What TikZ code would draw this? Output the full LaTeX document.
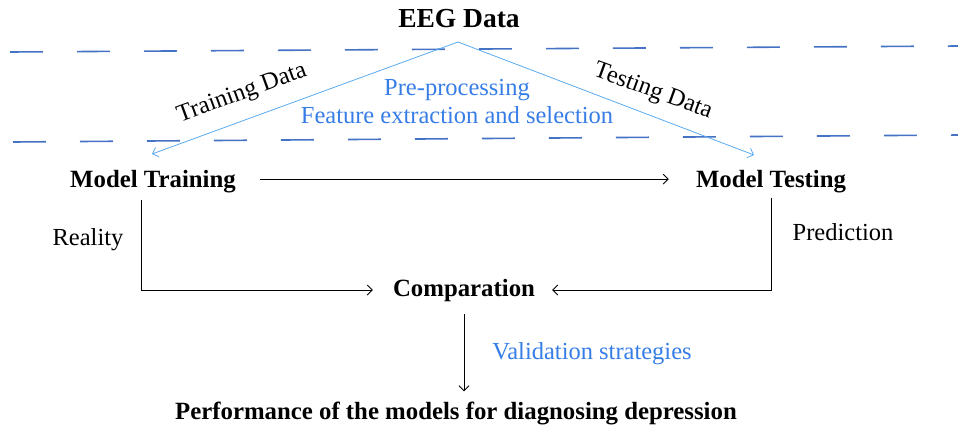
\documentclass[tikz,border=0pt]{standalone}
\usepackage{fontspec}
\setmainfont{Liberation Serif}
\usetikzlibrary{arrows.meta}
\definecolor{dashblue}{RGB}{68,114,196}
\definecolor{lineblue}{RGB}{90,170,240}
\definecolor{txtblue}{RGB}{55,125,230}
\begin{document}
\begin{tikzpicture}[x=1pt,y=-1pt,
  lbl/.style={inner sep=0pt,anchor=base,font=\fontsize{24.5}{29}\selectfont},
  blbl/.style={lbl,font=\fontsize{24.8}{29}\selectfont\bfseries},
  bluetxt/.style={lbl,text=txtblue},
  arr/.style={draw=black,line width=0.9pt,-{Straight Barb[length=5pt,width=10pt]}},
  barr/.style={draw=lineblue,line width=0.8pt,-{Straight Barb[length=5pt,width=10pt]}},
  dashline/.style={draw=dashblue,line width=1.6pt,dash pattern=on 33pt off 34pt}]
\useasboundingbox (0,0) rectangle (958,429);
% dashed separators
\draw[dashline] (10,52) -- (958,46);
\draw[dashline] (13,142) -- (958,135);
% nodes
\node[blbl,font=\fontsize{27.5}{31}\selectfont\bfseries] (eeg) at (459,27) {EEG Data};
\node[bluetxt] (pre) at (457,95) {Pre-processing};
\node[bluetxt] (feat) at (457,123) {Feature extraction and selection};
\node[lbl,rotate=20] (trd) at (244,99) {Training Data};
\node[lbl,rotate=-20] (ted) at (651,97) {Testing Data};
\node[blbl] (mt) at (153,187) {Model Training};
\node[blbl] (mte) at (771,187) {Model Testing};
\node[lbl] (real) at (88,245) {Reality};
\node[lbl] (pred) at (843,240) {Prediction};
\node[blbl] (cmp) at (464,296) {Comparation};
\node[bluetxt] (val) at (592,359) {Validation strategies};
\node[blbl] (perf) at (456,419) {Performance of the models for diagnosing depression};
% coordinates
\coordinate (apex) at (458,42);
\coordinate (ltip) at (152,154);
\coordinate (rtip) at (754,155);
\coordinate (lt) at (141,200);
\coordinate (rt) at (771,198);
% connectors
\draw[barr] (apex) -- (ltip);
\draw[barr] (apex) -- (rtip);
\draw[arr,shorten <=24pt,shorten >=27pt] ([yshift=2pt]mt.east) -- ([yshift=2pt]mte.west);
\draw[arr,shorten >=20pt] (lt) |- (cmp.west);
\draw[arr,shorten >=17pt] (rt) |- (cmp.east);
\draw[arr,shorten <=13pt,shorten >=10pt] (cmp.south) -- (cmp.south |- perf.north);
\end{tikzpicture}
\end{document}
